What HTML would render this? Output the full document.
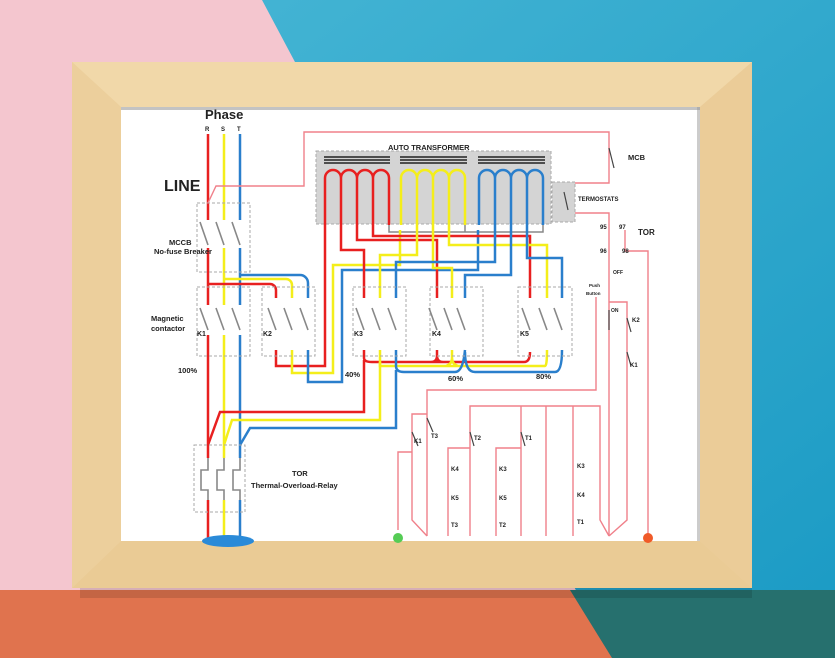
<!DOCTYPE html>
<html><head><meta charset="utf-8"><style>
html,body{margin:0;padding:0;width:835px;height:658px;overflow:hidden;background:#2aa8cc}
svg{display:block}
text{font-family:"Liberation Sans",sans-serif;font-weight:bold;fill:#222}
</style></head><body>
<svg width="835" height="658" viewBox="0 0 835 658" xmlns="http://www.w3.org/2000/svg">
<defs>
<linearGradient id="bl" x1="0" y1="0" x2="1" y2="1"><stop offset="0" stop-color="#4ab8d6"/><stop offset="1" stop-color="#1a9ac4"/></linearGradient>
</defs>
<rect width="835" height="658" fill="url(#bl)"/>
<polygon points="0,0 262,0 612,658 0,658" fill="#f4c6cf"/>
<polygon points="0,590 580,590 612,658 0,658" fill="#e0734e"/>
<polygon points="570,590 835,590 835,658 612,658" fill="#26706e"/>
<rect x="80" y="588" width="672" height="10" fill="#000" opacity="0.12"/>
<!-- frame -->
<rect x="72" y="62" width="680" height="526" fill="#eed2a0"/>
<polygon points="72,62 752,62 700,107 121,107" fill="#f1d8a9"/>
<polygon points="72,588 752,588 700,541 121,541" fill="#eacb95"/>
<polygon points="72,62 121,107 121,541 72,588" fill="#eccf9c"/>
<polygon points="752,62 700,107 700,541 752,588" fill="#ebcc98"/>
<rect x="121" y="107" width="579" height="434" fill="#fff"/>
<rect x="121" y="107" width="579" height="3" fill="#888" opacity="0.5"/>
<rect x="697" y="107" width="3" height="434" fill="#999" opacity="0.5"/>

<g fill="none" stroke-width="2.5">
<rect x="316" y="151" width="235" height="73" fill="#d4d4d4" stroke="#aaa" stroke-width="1" stroke-dasharray="3,2"/>
<rect x="552" y="182" width="23" height="40" fill="#d4d4d4" stroke="#aaa" stroke-width="1" stroke-dasharray="3,2"/>
<g stroke="#222" stroke-width="1.5">
<path d="M324 157H390M324 160H390M324 163H390M400 157H467M400 160H467M400 163H467M478 157H545M478 160H545M478 163H545"/>
</g>
<path stroke="#e82020" d="M325 225V178a8 8 0 0 1 16 0V225M341 178a8 8 0 0 1 16 0V225M357 178a8 8 0 0 1 16 0V225M373 178a8 8 0 0 1 16 0V225"/>
<path stroke="#f4ee1a" d="M401 225V178a8 8 0 0 1 16 0V225M417 178a8 8 0 0 1 16 0V225M433 178a8 8 0 0 1 16 0V225M449 178a8 8 0 0 1 16 0V225"/>
<path stroke="#2a7fcc" d="M479 225V178a8 8 0 0 1 16 0V225M495 178a8 8 0 0 1 16 0V225M511 178a8 8 0 0 1 16 0V225M527 178a8 8 0 0 1 16 0V225"/>
<path stroke="#888" stroke-width="1.5" d="M389 225V232H543V225M465 225V232"/>
<path stroke="#e82020" d="M208 134V540"/>
<path stroke="#f4ee1a" d="M224 134V540"/>
<path stroke="#2a7fcc" d="M240 134V540"/>
<path stroke="#e82020" d="M208 284H270a6 6 0 0 1 6 6V298"/>
<path stroke="#f4ee1a" d="M224 279H286a6 6 0 0 1 6 6V298"/>
<path stroke="#2a7fcc" d="M240 275H300a8 8 0 0 1 8 8V298"/>
<path stroke="#e82020" d="M276 350V366H325V225"/>
<path stroke="#f4ee1a" d="M292 350V373H333V265H400V230"/>
<path stroke="#2a7fcc" d="M308 350V382H342V270H478V230"/>
<path stroke="#e82020" d="M341 225V250H364V298"/>
<path stroke="#e82020" d="M357 225V240H437V298"/>
<path stroke="#e82020" d="M373 225V236H530V298"/>
<path stroke="#f4ee1a" d="M417 225V255H380V298"/>
<path stroke="#f4ee1a" d="M433 225V268H452V298"/>
<path stroke="#f4ee1a" d="M449 225V245H547V298"/>
<path stroke="#2a7fcc" d="M495 225V262H396V298"/>
<path stroke="#2a7fcc" d="M511 225V275H465V298"/>
<path stroke="#2a7fcc" d="M527 225V258H562V298"/>
<path stroke="#e82020" d="M364 350V358q0 4 8 4H524q6 0 6-10M437 350V356q0 6 -6 6M437 356q0 6 6 6"/>
<path stroke="#f4ee1a" d="M380 350V366H545q2 0 2-16M452 350V358q0 6 -6 8M452 358q0 6 6 8"/>
<path stroke="#2a7fcc" d="M396 350V366q0 6 8 6H455q8 0 10-22M465 352q0 20 10 20H555q7 0 7-22"/>
<path stroke="#e82020" d="M364 360V412H220L208 445"/>
<path stroke="#f4ee1a" d="M380 362V420H232L224 445"/>
<path stroke="#2a7fcc" d="M396 370V428H250L240 445"/>
</g>
<g fill="none" stroke="#aaa" stroke-width="1" stroke-dasharray="3,2">
<rect x="197" y="203" width="53" height="69"/>
<rect x="197" y="287" width="53" height="69"/>
<rect x="262" y="287" width="53" height="69"/>
<rect x="353" y="287" width="53" height="69"/>
<rect x="430" y="287" width="53" height="69"/>
<rect x="518" y="287" width="54" height="69"/>
<rect x="194" y="445" width="51" height="67"/>
</g>
<g stroke="#fff" stroke-width="5">
<path d="M208 220V248M224 220V248M240 220V248M208 305V335M224 305V335M240 305V335M276 305V335M292 305V335M308 305V335M364 305V335M380 305V335M396 305V335M437 305V335M452 305V335M465 305V335M530 305V335M547 305V335M562 305V335"/>
<path d="M208 458V500M224 458V500M240 458V500"/>
</g>
<g stroke="#888" stroke-width="1.6" fill="none">
<path d="M200 222L208 245M216 222L224 245M232 222L240 245M200 308L208 330M216 308L224 330M232 308L240 330M268 308L276 330M284 308L292 330M300 308L308 330M356 308L364 330M372 308L380 330M388 308L396 330M429 308L437 330M444 308L452 330M457 308L465 330M522 308L530 330M539 308L547 330M554 308L562 330"/>
<path d="M208 458V470H201V490H208V500M224 458V470H217V490H224V500M240 458V470H233V490H240V500"/>
</g>
<ellipse cx="228" cy="541" rx="26" ry="6" fill="#2a8ad8"/>
<g fill="none" stroke="#f0808a" stroke-width="1.4">
<path d="M208 203L216 186H304V132H609V183H575"/>
<path d="M575 213H609V220M609 220V300"/>
<path d="M625 230V251H648V536"/>
<path d="M609 300V536M609 302H627V520L609 536"/>
<path d="M596 297V390H427V536"/>
<path d="M427 414H412V520L427 536M412 452H398V530"/>
<path d="M470 536V406H600V520L609 536M521 406V536M546 406V536M573 406V536"/>
<path d="M470 448H448V536M521 448H496V536"/>
</g>
<circle cx="398" cy="538" r="5" fill="#5c5"/>
<circle cx="648" cy="538" r="5" fill="#f05a28"/>
<g stroke="#444" stroke-width="1.2" fill="none">
<path d="M609 148L614 168M564 192L568 210M427 418L433 432M412 432L418 446M470 432L474 446M521 432L525 446M627 318L631 332M627 352L631 366M609 310V330"/>
</g>
<text x="205" y="119" font-size="13">Phase</text>
<text x="205" y="131" font-size="6">R</text><text x="221" y="131" font-size="6">S</text><text x="237" y="131" font-size="6">T</text>
<text x="164" y="191" font-size="16">LINE</text>
<text x="169" y="245" font-size="7.5">MCCB</text>
<text x="154" y="254" font-size="7.5">No-fuse Breaker</text>
<text x="151" y="321" font-size="7.5">Magnetic</text>
<text x="151" y="331" font-size="7.5">contactor</text>
<text x="197" y="336" font-size="7">K1</text><text x="263" y="336" font-size="7">K2</text><text x="354" y="336" font-size="7">K3</text><text x="432" y="336" font-size="7">K4</text><text x="520" y="336" font-size="7">K5</text>
<text x="178" y="373" font-size="7.5">100%</text>
<text x="345" y="377" font-size="7.5">40%</text>
<text x="448" y="381" font-size="7.5">60%</text>
<text x="536" y="379" font-size="7.5">80%</text>
<text x="292" y="476" font-size="7.5">TOR</text>
<text x="251" y="488" font-size="7.5">Thermal-Overload-Relay</text>
<text x="388" y="150" font-size="7.5">AUTO TRANSFORMER</text>
<text x="628" y="160" font-size="7.5">MCB</text>
<text x="578" y="201" font-size="6">TERMOSTATS</text>
<text x="600" y="229" font-size="6">95</text><text x="619" y="229" font-size="6">97</text>
<text x="638" y="235" font-size="8">TOR</text>
<text x="600" y="253" font-size="6">96</text><text x="622" y="253" font-size="6">98</text>
<text x="613" y="274" font-size="5">OFF</text>
<text x="589" y="287" font-size="4.5">Push</text><text x="586" y="295" font-size="4.5">Button</text>
<text x="611" y="312" font-size="5">ON</text>
<text x="632" y="322" font-size="6">K2</text><text x="630" y="367" font-size="6">K1</text>
<g font-size="6">
<text x="414" y="443">K1</text><text x="431" y="438">T3</text>
<text x="474" y="440">T2</text><text x="525" y="440">T1</text>
<text x="451" y="471">K4</text><text x="451" y="500">K5</text><text x="451" y="527">T3</text>
<text x="499" y="471">K3</text><text x="499" y="500">K5</text><text x="499" y="527">T2</text>
<text x="577" y="468">K3</text><text x="577" y="497">K4</text><text x="577" y="524">T1</text>
</g>
</svg>
</body></html>
